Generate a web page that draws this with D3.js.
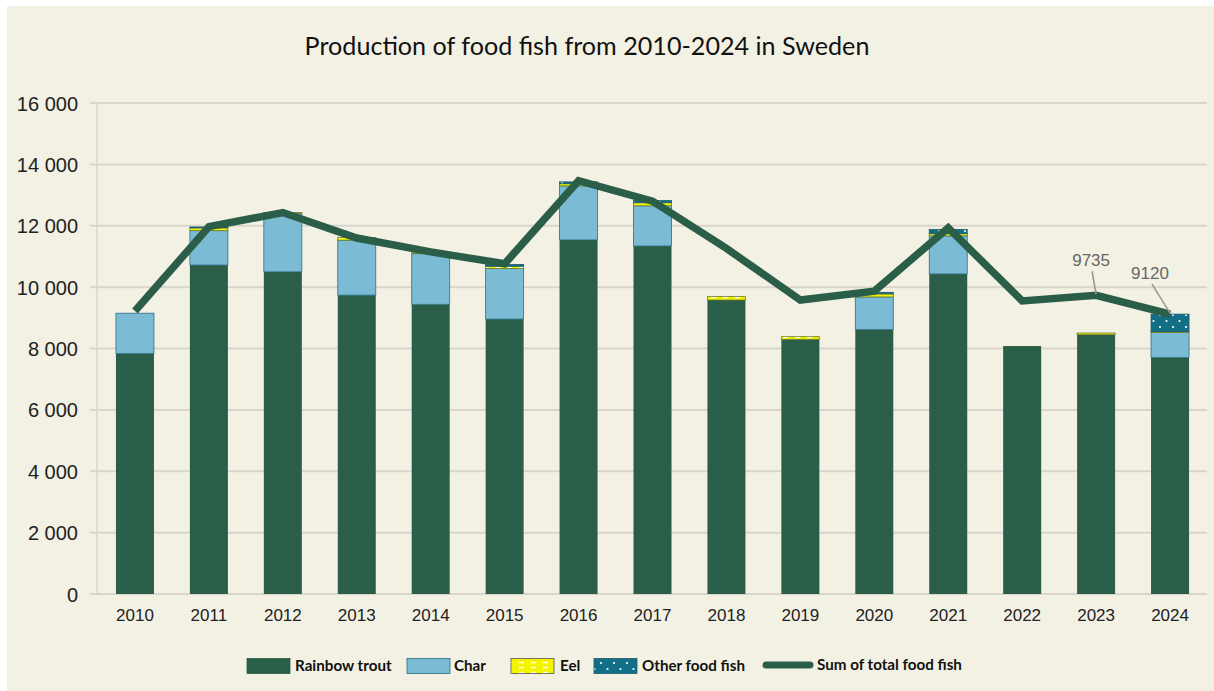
<!DOCTYPE html>
<html>
<head>
<meta charset="utf-8">
<script src="https://cdn.jsdelivr.net/npm/d3@7"></script>
<style>
  html, body { margin: 0; padding: 0; background: #ffffff; }
  svg { display: block; }
</style>
</head>
<body>
<svg id="chart" width="1214" height="691"></svg>
<script>
// Swedish food fish production, tonnes per year
const years = [2010, 2011, 2012, 2013, 2014, 2015, 2016, 2017, 2018, 2019, 2020, 2021, 2022, 2023, 2024];
const rainbowTrout = [7840, 10720, 10500, 9740, 9440, 8960, 11540, 11340, 9580, 8300, 8620, 10430, 8080, 8450, 7710];
const charFish = [1310, 1120, 1900, 1790, 1650, 1650, 1760, 1310, 0, 0, 1060, 1240, 0, 0, 810];
const eel = [0, 90, 30, 90, 30, 70, 70, 100, 110, 85, 100, 70, 0, 55, 30];
const otherFish = [0, 30, 0, 0, 0, 60, 60, 70, 0, 0, 50, 140, 0, 0, 570];
const totalFoodFish = [9220, 11970, 12430, 11600, 11150, 10760, 13470, 12800, 11260, 9580, 9870, 11930, 9550, 9735, 9120];
const yTicks = [0, 2000, 4000, 6000, 8000, 10000, 12000, 14000, 16000];
const seriesNames = ["Rainbow trout", "Char", "Eel", "Other food fish"];
const lineName = "Sum of total food fish";
const annotated = [{ year: 2023, value: 9735 }, { year: 2024, value: 9120 }];

const svg = d3.select("#chart");
const W = 1214, H = 691;

// patterns for eel and other food fish
const defs = svg.append("defs");
const eelPat = defs.append("pattern").attr("id", "eelPat")
  .attr("patternUnits", "userSpaceOnUse").attr("width", 12).attr("height", 5);
eelPat.append("rect").attr("width", 12).attr("height", 5).attr("fill", "#f4f400");
eelPat.append("line").attr("x1", 3).attr("x2", 8).attr("y1", 2.5).attr("y2", 2.5)
  .attr("stroke", "#ffffff").attr("stroke-width", 1.4);

const otherPat = defs.append("pattern").attr("id", "otherPat")
  .attr("patternUnits", "userSpaceOnUse").attr("width", 13).attr("height", 12);
otherPat.append("rect").attr("width", 13).attr("height", 12).attr("fill", "#136f86");
otherPat.append("circle").attr("cx", 3).attr("cy", 3).attr("r", 1.1).attr("fill", "#ffffff");
otherPat.append("circle").attr("cx", 9.5).attr("cy", 9).attr("r", 1.1).attr("fill", "#ffffff");

// background panel
svg.append("rect").attr("x", 0).attr("y", 0).attr("width", W).attr("height", H).attr("fill", "#ffffff");
svg.append("rect").attr("x", 7).attr("y", 6).attr("width", W - 7).attr("height", H - 6).attr("fill", "#f3f1e4");

// title
const title = svg.append("text")
  .attr("x", 587).attr("y", 55)
  .attr("text-anchor", "middle")
  .attr("font-family", "Lato, 'Open Sans', sans-serif")
  .attr("font-size", 23)
  .attr("fill", "#111")
  .text("Production of food fish from 2010-2024 in Sweden");
{
  const w = title.node().getComputedTextLength();
  title.attr("font-size", 23 * 565 / w);
}

// scales
const x = d3.scaleBand().domain(years).range([98, 1207]).paddingInner(0.486).paddingOuter(0.243);
const y = d3.scaleLinear().domain([0, 16000]).range([594, 103]);

// gridlines and y labels
const fmt = v => d3.format(",")(v).replace(/,/g, " ");
const yAxis = d3.axisLeft(y).tickValues(yTicks).tickSize(0).tickPadding(0).tickFormat(fmt);
const gy = svg.append("g").attr("transform", "translate(78,0)").call(yAxis);
gy.select(".domain").remove();
gy.selectAll("text")
  .attr("font-family", "'Liberation Sans', Arial, sans-serif")
  .attr("font-size", 20).attr("fill", "#222").attr("x", 0).attr("dy", "0.35em");

svg.append("g").selectAll("line").data(yTicks).join("line")
  .attr("x1", 90).attr("x2", 1207)
  .attr("y1", d => y(d)).attr("y2", d => y(d))
  .attr("stroke", "#d9d5cc").attr("stroke-width", 2);
svg.append("line").attr("x1", 97).attr("x2", 97).attr("y1", y(16000)).attr("y2", y(0))
  .attr("stroke", "#d9d5cc").attr("stroke-width", 1.5);

// x labels
const xAxis = d3.axisBottom(x).tickSize(0).tickPadding(0);
const gx = svg.append("g").attr("transform", "translate(0,607)").call(xAxis);
gx.select(".domain").remove();
gx.selectAll("text")
  .attr("font-family", "'Liberation Sans', Arial, sans-serif")
  .attr("font-size", 17).attr("fill", "#222").attr("dy", "0.85em");

// stacked bars
const rows = years.map((yr, i) => ({
  year: yr, "Rainbow trout": rainbowTrout[i], "Char": charFish[i], "Eel": eel[i], "Other food fish": otherFish[i]
}));
const stack = d3.stack().keys(seriesNames)(rows);
const fills = { "Rainbow trout": "#2b5e48", "Char": "#7bbbd4", "Eel": "url(#eelPat)", "Other food fish": "url(#otherPat)" };
const strokes = { "Rainbow trout": "#2b5e48", "Char": "#2f6e88", "Eel": "#6b7a2a", "Other food fish": "#1f5a6e" };

svg.append("g").selectAll("g").data(stack).join("g")
  .attr("fill", d => fills[d.key])
  .attr("stroke", d => strokes[d.key])
  .attr("stroke-width", d => d.key === "Rainbow trout" ? 0 : 0.8)
  .selectAll("rect").data(d => d.filter(s => s[1] - s[0] > 0)).join("rect")
  .attr("x", d => x(d.data.year))
  .attr("width", x.bandwidth())
  .attr("y", d => y(d[1]))
  .attr("height", d => y(d[0]) - y(d[1]));

// total line
const line = d3.line().x((d, i) => x(years[i]) + x.bandwidth() / 2).y(d => y(d));
svg.append("path").datum(totalFoodFish)
  .attr("d", line).attr("fill", "none")
  .attr("stroke", "#2b5e48").attr("stroke-width", 7.5)
  .attr("stroke-linejoin", "miter").attr("stroke-miterlimit", 3);

// value callouts
const callOffsets = { 2023: { lx: -4, ly: -24, tx: -5, ty: -29 }, 2024: { lx: -18, ly: -30, tx: -20, ty: -35 } };
annotated.forEach(a => {
  const cx = x(a.year) + x.bandwidth() / 2, cy = y(a.value);
  const o = callOffsets[a.year];
  svg.append("line").attr("x1", cx + o.lx).attr("y1", cy + o.ly).attr("x2", cx).attr("y2", cy - 1)
    .attr("stroke", "#9a9a9a").attr("stroke-width", 1.6);
  svg.append("text").attr("x", cx + o.tx).attr("y", cy + o.ty)
    .attr("text-anchor", "middle")
    .attr("font-family", "'Liberation Sans', Arial, sans-serif")
    .attr("font-size", 17).attr("fill", "#666")
    .text(a.value);
});

// legend
const legendY = 666;
const legendFont = 15.2;
const legendItems = [
  { name: seriesNames[0], sx: 247, tx: 295, fill: fills["Rainbow trout"], stroke: "#2b5e48" },
  { name: seriesNames[1], sx: 407, tx: 454, fill: fills["Char"], stroke: "#2f6e88" },
  { name: seriesNames[2], sx: 511, tx: 560, fill: fills["Eel"], stroke: "#555" },
  { name: seriesNames[3], sx: 594, tx: 642, fill: fills["Other food fish"], stroke: "#1f5a6e" }
];
const lg = svg.append("g");
legendItems.forEach(it => {
  lg.append("rect").attr("x", it.sx).attr("y", legendY - 7.5).attr("width", 43).attr("height", 15)
    .attr("fill", it.fill).attr("stroke", it.stroke).attr("stroke-width", 0.8);
  lg.append("text").attr("x", it.tx).attr("y", legendY + 5)
    .attr("font-family", "Lato, 'Open Sans', sans-serif").attr("font-weight", 700)
    .attr("font-size", legendFont).attr("fill", "#111").text(it.name);
});
lg.append("line").attr("x1", 766).attr("x2", 810).attr("y1", legendY - 1).attr("y2", legendY - 1)
  .attr("stroke", "#2b5e48").attr("stroke-width", 7).attr("stroke-linecap", "round");
lg.append("text").attr("x", 817).attr("y", legendY + 4)
  .attr("font-family", "Lato, 'Open Sans', sans-serif").attr("font-weight", 700)
  .attr("font-size", legendFont).attr("fill", "#111").text(lineName);
</script>
</body>
</html>
